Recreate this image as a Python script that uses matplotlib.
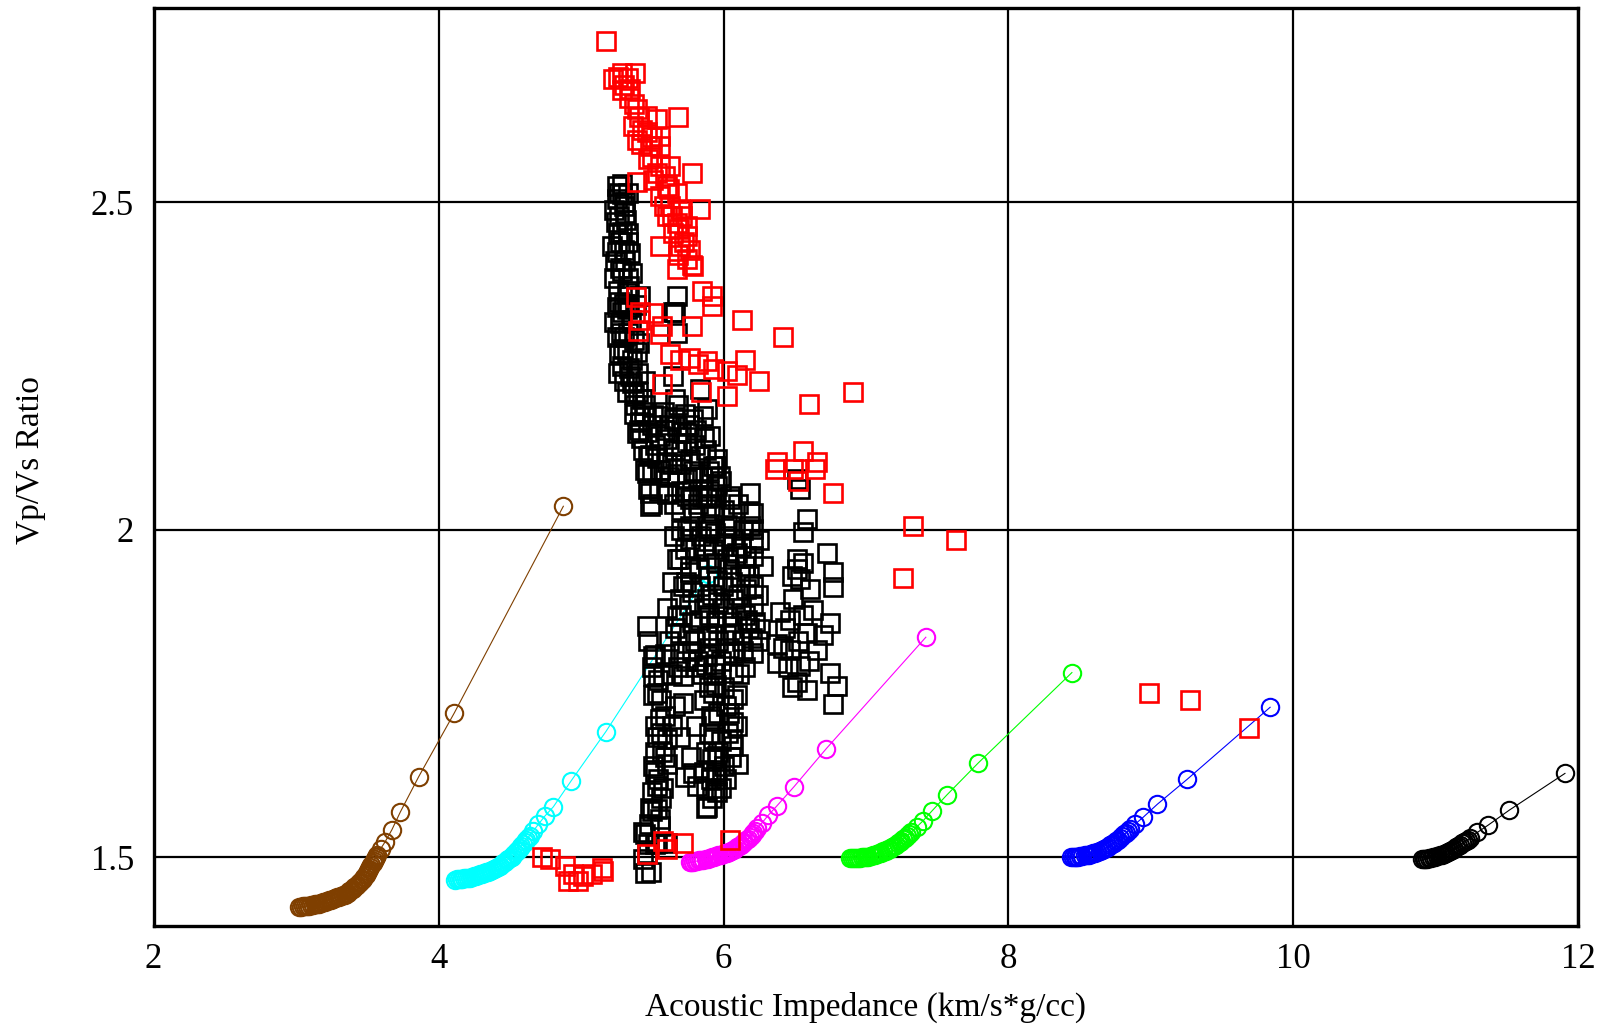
import matplotlib
matplotlib.use('Agg')
import matplotlib.pyplot as plt

# model curves (acoustic impedance, vp/vs)
brown_pts = [(4.876, 2.036), (4.110, 1.720), (3.861, 1.623), (3.732, 1.569), (3.673, 1.542),
	(3.624, 1.523), (3.594, 1.513), (3.565, 1.503), (3.558, 1.500), (3.551, 1.497), (3.544, 1.494),
	(3.537, 1.491), (3.529, 1.488), (3.521, 1.485), (3.513, 1.482), (3.505, 1.479), (3.497, 1.476),
	(3.489, 1.473), (3.480, 1.470), (3.471, 1.467), (3.462, 1.465), (3.452, 1.462), (3.441, 1.460),
	(3.430, 1.458), (3.419, 1.456), (3.408, 1.454), (3.397, 1.452), (3.386, 1.450), (3.375, 1.448),
	(3.364, 1.446), (3.353, 1.444), (3.343, 1.443), (3.329, 1.442), (3.315, 1.441), (3.301, 1.440),
	(3.287, 1.439), (3.273, 1.437), (3.259, 1.436), (3.245, 1.435), (3.231, 1.434), (3.217, 1.433),
	(3.203, 1.432), (3.189, 1.431), (3.175, 1.430), (3.161, 1.429), (3.147, 1.429), (3.133, 1.428),
	(3.119, 1.427), (3.105, 1.427), (3.091, 1.426), (3.077, 1.426), (3.063, 1.425), (3.049, 1.425),
	(3.035, 1.424), (3.022, 1.424)]
cyan_pts = [(5.891, 1.932), (5.175, 1.692), (4.932, 1.617), (4.806, 1.577), (4.747, 1.563),
	(4.700, 1.550), (4.665, 1.540), (4.640, 1.533), (4.628, 1.530), (4.615, 1.526), (4.604, 1.523),
	(4.592, 1.520), (4.581, 1.517), (4.570, 1.514), (4.559, 1.511), (4.548, 1.509), (4.537, 1.506),
	(4.525, 1.504), (4.514, 1.501), (4.502, 1.499), (4.491, 1.497), (4.479, 1.495), (4.467, 1.493),
	(4.455, 1.491), (4.443, 1.489), (4.430, 1.487), (4.417, 1.485), (4.404, 1.484), (4.391, 1.482),
	(4.378, 1.481), (4.364, 1.479), (4.350, 1.478), (4.336, 1.477), (4.322, 1.476), (4.308, 1.475),
	(4.294, 1.474), (4.280, 1.473), (4.266, 1.472), (4.252, 1.471), (4.238, 1.470), (4.224, 1.469),
	(4.210, 1.469), (4.196, 1.468), (4.182, 1.468), (4.168, 1.467), (4.155, 1.467), (4.142, 1.466),
	(4.130, 1.466), (4.115, 1.465)]
magenta_pts = [(7.420, 1.836), (6.722, 1.666), (6.496, 1.608), (6.373, 1.578), (6.314, 1.564),
	(6.272, 1.553), (6.237, 1.544), (6.223, 1.540), (6.210, 1.537), (6.197, 1.534), (6.185, 1.531),
	(6.172, 1.528), (6.160, 1.526), (6.147, 1.523), (6.134, 1.521), (6.121, 1.519), (6.108, 1.517),
	(6.094, 1.515), (6.080, 1.513), (6.066, 1.511), (6.052, 1.510), (6.038, 1.508), (6.023, 1.507),
	(6.009, 1.506), (5.994, 1.505), (5.979, 1.504), (5.964, 1.503), (5.949, 1.502), (5.934, 1.501),
	(5.919, 1.500), (5.904, 1.499), (5.889, 1.498), (5.874, 1.497), (5.859, 1.496), (5.844, 1.496),
	(5.829, 1.495), (5.814, 1.494), (5.800, 1.494), (5.786, 1.493), (5.774, 1.492), (5.762, 1.492)]
green_pts = [(8.445, 1.782), (7.788, 1.644), (7.567, 1.595), (7.460, 1.570), (7.402, 1.556),
	(7.355, 1.546), (7.316, 1.538), (7.302, 1.535), (7.288, 1.533), (7.275, 1.530), (7.262, 1.528),
	(7.249, 1.525), (7.236, 1.523), (7.222, 1.521), (7.208, 1.519), (7.194, 1.517), (7.180, 1.515),
	(7.166, 1.513), (7.152, 1.512), (7.137, 1.510), (7.122, 1.509), (7.107, 1.507), (7.092, 1.506),
	(7.077, 1.505), (7.062, 1.504), (7.047, 1.503), (7.032, 1.502), (7.017, 1.501), (7.002, 1.501),
	(6.987, 1.500), (6.972, 1.500), (6.957, 1.499), (6.942, 1.499), (6.928, 1.499), (6.914, 1.499),
	(6.902, 1.499), (6.890, 1.499)]
blue_pts = [(9.836, 1.729), (9.254, 1.619), (9.045, 1.581), (8.945, 1.561), (8.891, 1.551),
	(8.853, 1.543), (8.839, 1.540), (8.825, 1.537), (8.812, 1.535), (8.798, 1.532), (8.784, 1.530),
	(8.770, 1.527), (8.756, 1.525), (8.742, 1.522), (8.728, 1.520), (8.713, 1.518), (8.699, 1.516),
	(8.684, 1.514), (8.669, 1.512), (8.654, 1.511), (8.639, 1.509), (8.624, 1.508), (8.609, 1.507),
	(8.594, 1.506), (8.579, 1.505), (8.564, 1.504), (8.549, 1.503), (8.534, 1.503), (8.519, 1.502),
	(8.504, 1.502), (8.490, 1.501), (8.476, 1.501), (8.464, 1.501), (8.452, 1.501), (8.440, 1.500)]
black_curve_pts = [(11.905, 1.628), (11.515, 1.572), (11.366, 1.549), (11.291, 1.538),
	(11.241, 1.530), (11.226, 1.527), (11.210, 1.525), (11.196, 1.523), (11.182, 1.521),
	(11.168, 1.519), (11.154, 1.517), (11.140, 1.515), (11.126, 1.513), (11.112, 1.511),
	(11.097, 1.510), (11.083, 1.508), (11.068, 1.507), (11.054, 1.505), (11.039, 1.504),
	(11.025, 1.503), (11.010, 1.502), (10.995, 1.501), (10.980, 1.500), (10.966, 1.499),
	(10.952, 1.499), (10.938, 1.498), (10.925, 1.498), (10.915, 1.497), (10.905, 1.497)]

# well log samples
black_pts = [
	(5.252, 2.525), (5.285, 2.528), (5.288, 2.513), (5.332, 2.515), (5.230, 2.489), (5.309, 2.484),
	(5.317, 2.473), (5.259, 2.453), (5.332, 2.454), (5.216, 2.434), (5.274, 2.439), (5.302, 2.427),
	(5.344, 2.423), (5.274, 2.400), (5.355, 2.393), (5.230, 2.384), (5.338, 2.372), (5.320, 2.362),
	(5.414, 2.357), (5.266, 2.348), (5.388, 2.344), (5.285, 2.332), (5.321, 2.337), (5.274, 2.316),
	(5.230, 2.317), (5.302, 2.294), (5.410, 2.286), (5.297, 2.276), (5.391, 2.271), (5.266, 2.270),
	(5.338, 2.247), (5.344, 2.235), (5.302, 2.228), (5.446, 2.228), (5.374, 2.208),
	(5.250, 2.505), (5.300, 2.495), (5.245, 2.470), (5.290, 2.455), (5.240, 2.410), (5.310, 2.410),
	(5.260, 2.365), (5.300, 2.345), (5.350, 2.320), (5.250, 2.295), (5.330, 2.300), (5.360, 2.260),
	(5.290, 2.250), (5.400, 2.240), (5.320, 2.210), (5.380, 2.190), (5.450, 2.190), (5.430, 2.200),
	(5.265, 2.515), (5.310, 2.500), (5.270, 2.480), (5.330, 2.440), (5.255, 2.425), (5.290, 2.395),
	(5.330, 2.385), (5.250, 2.340), (5.340, 2.340), (5.280, 2.300), (5.370, 2.290), (5.320, 2.270),
	(5.260, 2.240), (5.360, 2.225), (5.400, 2.210),
	(5.671, 2.357), (5.660, 2.332), (5.648, 2.332), (5.671, 2.301), (5.648, 2.235), (5.835, 2.215),
	(5.374, 2.177), (5.414, 2.164), (5.410, 2.153), (5.391, 2.148), (5.531, 2.174), (5.601, 2.138),
	(5.741, 2.148), (5.859, 2.174), (5.905, 2.143), (5.661, 2.200), (5.733, 2.177), (5.805, 2.153),
	(5.589, 2.153), (5.432, 2.122), (5.661, 2.122), (5.877, 2.122), (5.473, 2.113), (5.446, 2.091),
	(5.553, 2.091), (5.948, 2.098), (5.461, 2.087), (5.467, 2.063), (5.484, 2.057), (5.482, 2.036),
	(5.496, 2.039), (5.601, 2.057), (5.601, 2.103), (5.765, 2.108), (5.741, 2.077), (5.765, 2.047),
	(5.929, 2.098), (5.952, 2.067), (5.984, 2.075), (6.046, 2.047), (6.186, 2.057), (5.905, 2.036),
	(5.414, 2.174), (5.508, 2.176), (5.420, 2.140), (5.554, 2.143), (5.671, 2.159), (5.788, 2.169),
	(5.882, 2.184), (5.742, 2.133), (5.484, 2.115), (5.835, 2.113), (5.952, 2.108), (5.554, 2.092),
	(5.671, 2.085), (5.788, 2.090), (5.975, 2.082), (5.601, 2.054), (5.742, 2.052), (5.882, 2.049),
	(6.046, 2.052), (6.186, 2.026), (5.788, 2.026), (5.929, 2.026),
	(5.500, 2.160), (5.650, 2.170), (5.700, 2.120), (5.520, 2.130), (5.640, 2.100), (5.800, 2.130),
	(5.850, 2.080), (5.700, 2.060), (5.550, 2.060), (5.650, 2.040), (5.850, 2.050), (5.530, 2.110),
	(5.440, 2.180), (5.470, 2.150), (5.580, 2.180), (5.620, 2.160), (5.700, 2.150), (5.760, 2.160),
	(5.680, 2.190), (5.500, 2.090), (5.620, 2.080), (5.700, 2.100), (5.820, 2.080), (5.900, 2.090),
	(5.860, 2.140), (5.780, 2.060), (5.950, 2.050),
	(5.765, 2.006), (5.905, 2.001), (6.046, 2.006), (6.209, 2.026), (6.209, 2.001), (5.765, 1.986),
	(5.671, 1.955), (5.765, 1.945), (6.209, 1.980), (6.280, 1.945), (6.093, 1.965), (5.718, 1.914),
	(5.999, 1.914), (5.742, 2.001), (5.882, 2.006), (6.022, 2.008), (6.186, 2.006), (6.069, 1.986),
	(5.929, 1.970), (5.695, 1.955), (5.765, 1.935), (6.022, 1.955), (6.209, 1.960), (6.116, 1.929),
	(5.952, 1.924), (5.835, 1.914), (6.209, 1.914), (5.695, 1.894), (5.882, 1.894), (6.069, 1.894),
	(6.209, 1.884), (5.671, 1.868), (5.835, 1.863), (6.022, 1.868), (6.163, 1.863), (6.256, 1.848),
	(5.695, 1.843), (5.882, 1.838), (6.069, 1.843), (5.461, 1.853), (5.508, 1.807), (5.695, 1.812),
	(5.882, 1.807), (6.069, 1.812), (6.209, 1.812), (5.508, 1.777), (5.718, 1.777), (5.929, 1.782),
	(6.069, 1.782), (5.800, 1.970), (5.950, 1.950), (6.100, 1.900), (5.780, 1.860), (5.950, 1.860),
	(6.130, 1.830), (5.800, 1.830), (5.980, 1.800), (6.150, 1.790), (5.620, 1.830), (5.600, 1.880),
	(5.640, 1.920), (6.000, 1.975), (6.150, 1.945), (5.850, 1.780),
	(5.820, 2.040), (5.900, 2.060), (6.000, 2.030), (6.100, 2.040), (6.140, 2.000), (5.840, 1.990),
	(5.940, 1.995), (6.120, 1.975), (5.880, 1.955), (6.040, 1.940), (6.180, 1.930), (5.780, 1.905),
	(5.920, 1.900), (6.000, 1.880), (6.150, 1.870), (5.760, 1.885), (5.900, 1.870), (6.060, 1.860),
	(6.220, 1.860), (5.740, 1.800), (5.820, 1.800), (5.960, 1.830), (6.040, 1.820), (6.200, 1.835),
	(5.650, 1.990), (5.700, 2.030), (6.250, 1.985), (6.240, 1.900),
	(5.700, 2.000), (5.730, 1.970), (5.860, 1.975), (6.020, 1.990), (6.080, 1.960), (6.160, 1.960),
	(5.830, 1.940), (5.900, 1.930), (6.060, 1.920), (6.160, 1.910), (5.740, 1.920), (5.860, 1.880),
	(5.960, 1.890), (6.120, 1.880), (5.700, 1.870), (5.760, 1.840), (5.920, 1.840), (6.020, 1.840),
	(6.180, 1.850), (5.660, 1.850), (5.780, 1.815), (5.900, 1.820), (6.140, 1.815), (6.240, 1.830),
	(5.680, 1.790), (5.800, 1.790), (5.940, 1.795), (6.110, 1.780),
	(6.537, 2.062), (6.513, 2.077), (6.584, 2.016), (6.560, 1.996), (6.724, 1.965), (6.513, 1.955),
	(6.771, 1.935), (6.537, 1.925), (6.513, 1.940), (6.771, 1.912), (6.607, 1.909), (6.490, 1.894),
	(6.396, 1.874), (6.630, 1.878), (6.747, 1.858), (6.467, 1.863), (6.584, 1.843), (6.373, 1.825),
	(6.467, 1.817), (6.654, 1.817), (6.373, 1.797), (6.537, 1.792), (6.747, 1.782), (6.513, 1.767),
	(6.584, 1.756), (6.794, 1.762), (6.771, 1.734), (6.430, 1.850), (6.520, 1.830), (6.600, 1.800),
	(6.450, 1.790), (6.480, 1.930), (6.560, 1.950), (6.420, 1.820), (6.480, 1.760), (6.560, 1.870),
	(6.700, 1.840),
	(5.531, 1.751), (5.718, 1.736), (5.929, 1.751), (6.069, 1.741), (5.554, 1.711), (5.929, 1.711),
	(6.069, 1.706), (5.601, 1.680), (5.929, 1.680), (6.069, 1.670), (5.952, 1.655), (5.508, 1.639),
	(5.601, 1.642), (5.531, 1.609), (5.788, 1.629), (5.812, 1.609), (5.952, 1.624), (6.104, 1.642),
	(5.952, 1.599), (5.882, 1.576), (5.531, 1.573), (5.437, 1.538), (5.554, 1.548), (5.461, 1.507),
	(5.531, 1.522), (5.601, 1.522), (5.449, 1.476), (5.518, 1.809), (5.575, 1.778), (5.503, 1.747),
	(5.589, 1.716), (5.532, 1.684), (5.589, 1.653), (5.518, 1.630), (5.575, 1.606), (5.482, 1.575),
	(5.553, 1.559), (5.446, 1.536), (5.518, 1.520), (5.432, 1.497), (5.489, 1.478), (5.661, 1.731),
	(5.697, 1.684), (5.877, 1.794), (5.948, 1.763), (6.020, 1.731), (5.912, 1.716), (6.092, 1.700),
	(5.984, 1.677), (5.877, 1.661), (6.056, 1.653), (5.948, 1.630), (5.877, 1.606), (5.984, 1.606),
	(5.877, 1.575), (6.092, 1.747), (5.805, 1.700), (5.769, 1.653), (5.733, 1.622),
	(5.500, 1.790), (5.560, 1.740), (5.520, 1.700), (5.570, 1.660), (5.500, 1.600), (5.480, 1.550),
	(5.560, 1.590), (5.900, 1.760), (6.000, 1.760), (5.960, 1.720), (6.030, 1.690), (5.920, 1.650),
	(6.000, 1.640), (5.910, 1.620), (5.640, 1.780), (5.640, 1.700),
	(5.470, 1.520), (5.500, 1.570), (5.540, 1.620), (5.520, 1.660), (5.560, 1.690), (5.540, 1.770),
	(5.590, 1.810), (5.470, 1.830), (5.860, 1.740), (6.040, 1.720), (5.900, 1.690), (6.060, 1.680),
	(5.960, 1.660), (5.860, 1.630), (6.020, 1.620), (5.920, 1.590)]

red_pts = [
	(5.173, 2.747), (5.285, 2.698), (5.379, 2.698), (5.227, 2.689), (5.259, 2.692), (5.330, 2.690),
	(5.344, 2.673), (5.288, 2.672), (5.391, 2.642), (5.461, 2.632), (5.531, 2.627), (5.367, 2.617),
	(5.300, 2.680), (5.340, 2.660), (5.370, 2.650), (5.410, 2.630), (5.430, 2.610), (5.420, 2.590),
	(5.683, 2.630), (5.461, 2.607), (5.554, 2.602), (5.391, 2.596), (5.484, 2.586), (5.554, 2.586),
	(5.500, 2.600), (5.500, 2.570), (5.530, 2.545), (5.590, 2.540), (5.620, 2.520), (5.580, 2.495),
	(5.473, 2.566), (5.554, 2.556), (5.625, 2.556), (5.508, 2.535), (5.391, 2.532), (5.777, 2.545),
	(5.601, 2.525), (5.671, 2.515), (5.554, 2.510), (5.625, 2.495), (5.695, 2.490), (5.835, 2.490),
	(5.640, 2.480), (5.690, 2.460), (5.710, 2.480), (5.720, 2.440), (5.680, 2.420),
	(5.601, 2.479), (5.671, 2.469), (5.742, 2.464), (5.648, 2.454), (5.742, 2.449), (5.695, 2.434),
	(5.554, 2.434), (5.765, 2.428), (5.742, 2.413), (5.788, 2.403), (5.671, 2.398), (5.777, 2.405),
	(5.847, 2.365), (5.917, 2.357), (5.921, 2.342), (5.384, 2.355), (5.414, 2.332), (5.507, 2.331),
	(5.414, 2.321), (5.566, 2.311), (5.402, 2.304), (5.554, 2.299), (5.777, 2.312), (6.128, 2.320),
	(6.420, 2.294), (5.625, 2.268), (5.695, 2.260), (5.765, 2.263), (5.823, 2.253), (5.882, 2.258),
	(5.928, 2.245), (6.022, 2.242), (6.093, 2.237), (6.151, 2.259), (6.249, 2.228), (5.570, 2.223),
	(5.840, 2.211), (6.025, 2.205), (6.600, 2.192), (6.911, 2.210), (6.560, 2.120), (6.373, 2.103),
	(6.361, 2.093), (6.490, 2.093), (6.654, 2.103), (6.642, 2.093), (6.525, 2.075), (6.771, 2.057),
	(7.327, 2.006), (7.635, 1.984), (7.262, 1.927), (8.983, 1.751), (9.274, 1.740), (9.690, 1.697),
	(4.724, 1.500), (4.782, 1.497), (4.888, 1.487), (4.946, 1.474), (4.911, 1.464), (4.981, 1.464),
	(5.016, 1.471), (5.075, 1.474), (5.145, 1.484), (5.157, 1.479), (5.461, 1.505), (5.578, 1.525),
	(5.601, 1.512), (5.718, 1.522), (6.046, 1.527)]

x_ticks = [2, 4, 6, 8, 10, 12]
y_ticks = [1.5, 2, 2.5]
y_tick_labels = ['1.5', '2', '2.5']

curves = [(brown_pts, '#7f3f00'), (cyan_pts, '#00ffff'), (magenta_pts, '#ff00ff'),
	(green_pts, '#00ff00'), (blue_pts, '#0000ff'), (black_curve_pts, '#000000')]

plt.rcParams['font.family'] = ['Liberation Serif', 'DejaVu Serif']

fig = plt.figure(figsize=(16.04, 10.26), dpi=100)
ax = fig.add_axes([0.0957, 0.0975, 0.8884, 0.8947])

for pts, col in curves:
	cx, cy = zip(*pts)
	ax.plot(cx, cy, color=col, lw=0.8, marker='o', ms=12.5, mfc='none', mec=col, mew=1.5, zorder=3)

bx, by = zip(*black_pts)
ax.plot(bx, by, ls='none', marker='s', ms=13, mfc='none', mec='black', mew=1.9, zorder=4)
rx, ry = zip(*red_pts)
ax.plot(rx, ry, ls='none', marker='s', ms=13, mfc='none', mec='#ff0000', mew=1.9, zorder=5)

ax.set_xlim(2, 12)
ax.set_ylim(1.395, 2.797)
ax.set_xticks(x_ticks)
ax.set_xticklabels([str(t) for t in x_ticks])
ax.set_yticks(y_ticks)
ax.set_yticklabels(y_tick_labels)
ax.tick_params(length=0, labelsize=25)
ax.tick_params(axis='x', pad=12)
ax.tick_params(axis='y', pad=14)
ax.grid(True, color='black', lw=1.6)
ax.set_axisbelow(True)
for s in ax.spines.values():
	s.set_linewidth(2.4)

fig.text(0.5399, 0.0185, 'Acoustic Impedance (km/s*g/cc)', fontsize=24, ha='center', va='center')
fig.text(0.019, 0.552, 'Vp/Vs Ratio', fontsize=24, rotation=90, ha='center', va='center')

fig.savefig('out.png', dpi=100)
